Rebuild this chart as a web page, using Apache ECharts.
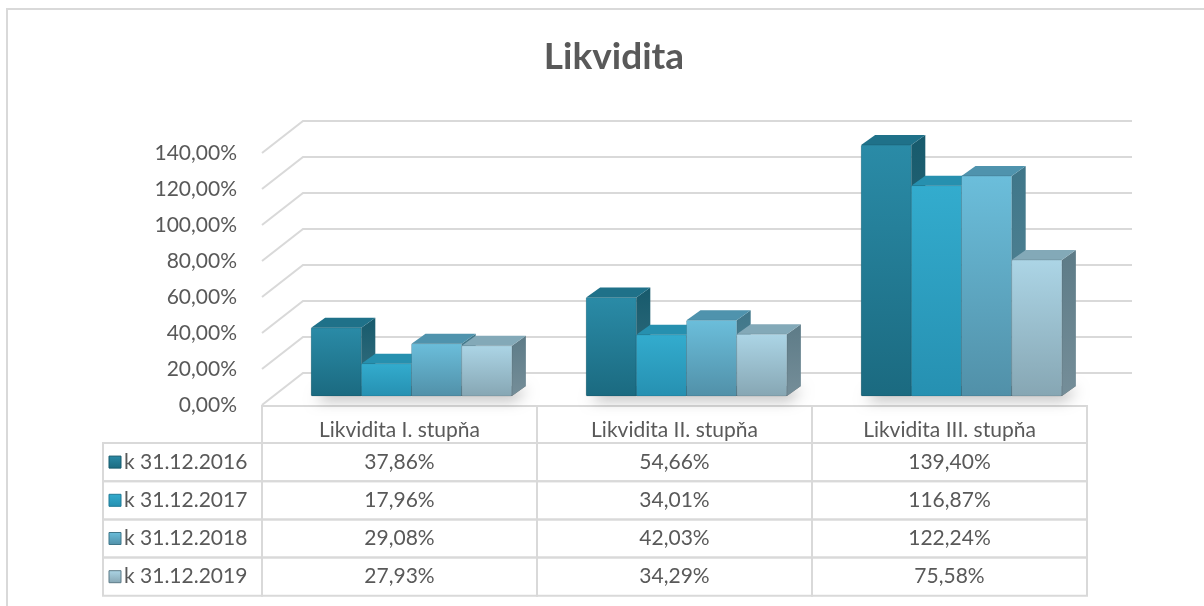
<!DOCTYPE html>
<html>
<head>
<meta charset="utf-8">
<title>Likvidita</title>
<script src="https://cdn.jsdelivr.net/npm/echarts@6/dist/echarts.min.js"></script>
<style>
  html, body { margin: 0; padding: 0; background: #fff; }
  #main { width: 1204px; height: 606px; }
</style>
</head>
<body>
<div id="main"></div>
<script>
// data
var categories = ['Likvidita I. stupňa', 'Likvidita II. stupňa', 'Likvidita III. stupňa'];
var seriesNames = ['k 31.12.2016', 'k 31.12.2017', 'k 31.12.2018', 'k 31.12.2019'];
var values2016 = [37.86, 54.66, 139.40];
var values2017 = [17.96, 34.01, 116.87];
var values2018 = [29.08, 42.03, 122.24];
var values2019 = [27.93, 34.29, 75.58];
var yTicks = [0, 20, 40, 60, 80, 100, 120, 140];

var allValues = [values2016, values2017, values2018, values2019];

// look
var FONT = 'Lato';
var TEXT = '#595959';
var LINE = '#d9d9d9';
var WALL_DEPTH = [41, -32];   // floor front edge -> back wall
var BAR_PLANE = [12, -9];     // floor front edge -> bar front faces
var BAR_DEPTH = [14, -10];
var GROUP_FILL = 0.73;
var HEADER_H = 37;
var ROW_H = 38.2;
var LABEL_W = 159;
var TABLE_FONT = '21px ' + FONT;

var palette = [
  { hi: '#2a8ba7', lo: '#1b6a80', top: '#1f7189', side: '#175a6c' },
  { hi: '#33acce', lo: '#2690b1', top: '#2690af', side: '#1f7a96' },
  { hi: '#6bbedb', lo: '#5190a8', top: '#4f93ad', side: '#3f7689' },
  { hi: '#acd5e6', lo: '#86a6b3', top: '#83a9b8', side: '#5d7b87' }
];

function pct(v) {
  return v.toFixed(2).replace('.', ',') + '%';
}

function makeBarSeries(k) {
  return {
    name: seriesNames[k],
    type: 'custom',
    z: 5,
    data: allValues[k].map(function (v, i) { return [i, v]; }),
    encode: { x: 0, y: 1 },
    renderItem: function (params, api) {
      var cat = api.value(0);
      var val = api.value(1);
      var base = api.coord([cat, 0]);
      var top = api.coord([cat, val]);
      var catW = api.size([1, 0])[0];
      var groupW = catW * GROUP_FILL;
      var barW = groupW / allValues.length;
      var x0 = base[0] - groupW / 2 + k * barW + BAR_PLANE[0];
      var x1 = x0 + barW;
      var yb = base[1] + BAR_PLANE[1];
      var yt = top[1] + BAR_PLANE[1];
      var dx = BAR_DEPTH[0], dy = BAR_DEPTH[1];
      var c = palette[k];
      return {
        type: 'group',
        children: [
          {
            type: 'polygon',
            shape: { points: [[x1, yt], [x1 + dx, yt + dy], [x1 + dx, yb + dy], [x1, yb]] },
            style: {
              fill: new echarts.graphic.LinearGradient(0, 0, 0, 1, [
                { offset: 0, color: c.side }, { offset: 1, color: echarts.color.lift(c.side, 0.15) }
              ])
            }
          },
          {
            type: 'polygon',
            shape: { points: [[x0, yt], [x1, yt], [x1 + dx, yt + dy], [x0 + dx, yt + dy]] },
            style: { fill: c.top }
          },
          {
            type: 'rect',
            shape: { x: x0, y: yt, width: barW, height: yb - yt, r: 1 },
            style: {
              fill: new echarts.graphic.LinearGradient(0, 0, 0, 1, [
                { offset: 0, color: c.hi }, { offset: 1, color: c.lo }
              ]),
              stroke: 'rgba(0,0,0,0.12)',
              lineWidth: 1
            }
          }
        ]
      };
    }
  };
}

// soft floor shadow under each group of bars
var shadowSeries = {
  type: 'custom',
  z: 3,
  silent: true,
  data: categories.map(function (c, i) { return [i, 0]; }),
  encode: { x: 0, y: 1 },
  renderItem: function (params, api) {
    var base = api.coord([api.value(0), 0]);
    var catW = api.size([1, 0])[0];
    var groupW = catW * GROUP_FILL;
    var x0 = base[0] - groupW / 2 + BAR_PLANE[0];
    var x1 = x0 + groupW;
    var yb = base[1] + BAR_PLANE[1];
    return {
      type: 'polygon',
      shape: { points: [[x0 + 2, yb], [x1, yb], [x1 + BAR_DEPTH[0], yb + BAR_DEPTH[1]], [x0 + BAR_DEPTH[0], yb + BAR_DEPTH[1]]] },
      style: {
        fill: 'rgba(0,0,0,0.5)',
        shadowBlur: 14,
        shadowOffsetX: 2,
        shadowOffsetY: 4,
        shadowColor: 'rgba(0,0,0,0.6)'
      }
    };
  }
};

// back wall gridlines with slanted floor edges
var wallSeries = {
  type: 'custom',
  z: 1,
  silent: true,
  data: yTicks.map(function (v) { return [0, v]; }),
  encode: { x: 0, y: 1 },
  renderItem: function (params, api) {
    var v = api.value(1);
    var catW = api.size([1, 0])[0];
    var p0 = api.coord([0, v]);
    var p1 = api.coord([categories.length - 1, v]);
    var left = p0[0] - catW / 2;
    var right = p1[0] + catW / 2;
    var y = p0[1];
    return {
      type: 'polyline',
      shape: { points: [[left, y], [left + WALL_DEPTH[0], y + WALL_DEPTH[1]], [right + WALL_DEPTH[0] + 4, y + WALL_DEPTH[1]]] },
      style: { stroke: LINE, lineWidth: 2, fill: null }
    };
  }
};

// data table under the chart (row -1 is the header)
var tableRows = [-1].concat(seriesNames.map(function (n, i) { return i; }));
var tableSeries = {
  type: 'custom',
  z: 2,
  silent: true,
  data: tableRows.map(function (r) { return [0, 0, r]; }),
  encode: { x: 0, y: 1 },
  renderItem: function (params, api) {
    var r = api.value(2);
    var catW = api.size([1, 0])[0];
    var origin = api.coord([0, 0]);
    var left = origin[0] - catW / 2;
    var children = [];
    var rowTop, h;
    if (r < 0) {
      rowTop = origin[1] + 1;
      h = HEADER_H;
    } else {
      rowTop = origin[1] + 1 + HEADER_H + r * ROW_H;
      h = ROW_H;
      children.push({
        type: 'rect',
        shape: { x: left - LABEL_W, y: rowTop, width: LABEL_W, height: h },
        style: { fill: null, stroke: LINE, lineWidth: 2 }
      });
      var c = palette[r];
      children.push({
        type: 'rect',
        shape: { x: left - LABEL_W + 6, y: rowTop + h / 2 - 6, width: 12, height: 12 },
        style: {
          fill: new echarts.graphic.LinearGradient(0, 0, 0, 1, [
            { offset: 0, color: c.hi }, { offset: 1, color: c.lo }
          ]),
          stroke: c.side,
          lineWidth: 1
        }
      });
      children.push({
        type: 'text',
        style: {
          x: left - LABEL_W + 21, y: rowTop + h / 2,
          text: seriesNames[r],
          fill: TEXT, font: TABLE_FONT,
          verticalAlign: 'middle', align: 'left'
        }
      });
    }
    for (var ci = 0; ci < categories.length; ci++) {
      var cx = api.coord([ci, 0])[0];
      children.push({
        type: 'rect',
        shape: { x: cx - catW / 2, y: rowTop, width: catW, height: h },
        style: { fill: null, stroke: LINE, lineWidth: 2 }
      });
      children.push({
        type: 'text',
        style: {
          x: cx, y: rowTop + h / 2 + (r < 0 ? 6 : 0),
          text: r < 0 ? categories[ci] : pct(allValues[r][ci]),
          fill: TEXT, font: TABLE_FONT,
          verticalAlign: 'middle', align: 'center'
        }
      });
    }
    return { type: 'group', children: children };
  }
};

var dom = document.getElementById('main');
var myChart = echarts.init(dom, null, { renderer: 'canvas' });

var option = {
  backgroundColor: '#fff',
  animation: false,
  title: {
    text: 'Likvidita',
    left: 609,
    textAlign: 'center',
    top: 34,
    textStyle: { fontFamily: FONT, fontSize: 37, fontWeight: 'bold', color: TEXT }
  },
  graphic: [
    {
      type: 'rect',
      silent: true,
      shape: { x: 7, y: 9, width: 1220, height: 620 },
      style: { fill: null, stroke: LINE, lineWidth: 2 }
    }
  ],
  grid: { left: 262, right: 117, top: 153, bottom: 201 },
  xAxis: {
    type: 'category',
    data: categories,
    axisLine: { show: false },
    axisTick: { show: false },
    axisLabel: { show: false },
    splitLine: { show: false }
  },
  yAxis: {
    type: 'value',
    min: 0,
    max: 140,
    interval: 20,
    axisLine: { show: false },
    axisTick: { show: false },
    splitLine: { show: false },
    axisLabel: {
      margin: 25,
      color: TEXT,
      fontFamily: FONT,
      fontSize: 21,
      formatter: function (v) { return pct(v); }
    }
  },
  series: [wallSeries, tableSeries, shadowSeries]
    .concat(seriesNames.map(function (n, k) { return makeBarSeries(k); }))
};

myChart.setOption(option);
window.addEventListener('resize', myChart.resize);
</script>
</body>
</html>
